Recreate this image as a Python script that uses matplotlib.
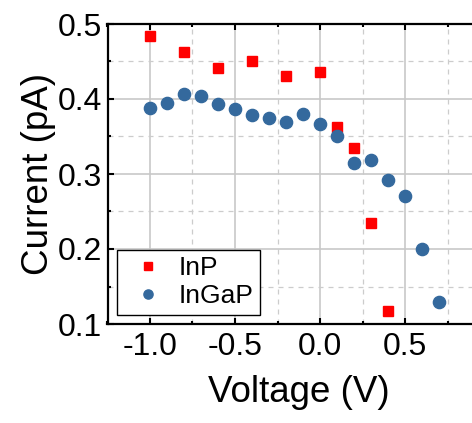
import matplotlib.pyplot as plt
from matplotlib.ticker import MultipleLocator

plt.rcParams['font.family'] = ['Liberation Sans', 'DejaVu Sans']

# InP data (squares)
inp_v = [-1.0, -0.8, -0.6, -0.4, -0.2, 0.0, 0.1, 0.2, 0.3, 0.4]
inp_i = [0.484, 0.462, 0.441, 0.450, 0.430, 0.436, 0.362, 0.335, 0.234, 0.117]

# InGaP data (circles)
ingap_v = [-1.0, -0.9, -0.8, -0.7, -0.6, -0.5, -0.4, -0.3, -0.2, -0.1,
           0.0, 0.1, 0.2, 0.3, 0.4, 0.5, 0.6, 0.7]
ingap_i = [0.388, 0.395, 0.407, 0.404, 0.393, 0.386, 0.379, 0.375, 0.369, 0.380,
           0.366, 0.351, 0.315, 0.319, 0.292, 0.270, 0.200, 0.129]

xticks = [-1.0, -0.5, 0.0, 0.5]
yticks = [0.1, 0.2, 0.3, 0.4, 0.5]

fig = plt.figure(figsize=(4.72, 4.23), dpi=100)
ax = fig.add_axes([107.5 / 472, 99 / 423, 382.5 / 472, 300 / 423])

ax.plot(inp_v, inp_i, 's', color='#ff0000', markersize=7, label='InP', zorder=3)
ax.plot(ingap_v, ingap_i, 'o', color='#34699d', markersize=8.8, label='InGaP', zorder=3)

ax.set_xlim(-1.25, 1.0)
ax.set_ylim(0.1, 0.5)
ax.set_xticks(xticks)
ax.set_xticklabels(['-1.0', '-0.5', '0.0', '0.5'])
ax.set_yticks(yticks)
ax.xaxis.set_minor_locator(MultipleLocator(0.25))
ax.yaxis.set_minor_locator(MultipleLocator(0.05))

ax.grid(which='major', color='#c8c8c8', linewidth=1.2, linestyle='-')
ax.grid(which='minor', color='#cccccc', linewidth=0.9, linestyle=(0, (4, 4)))
ax.set_axisbelow(True)

ax.tick_params(which='both', direction='in', top=True, right=False,
               labelsize=23, width=1.5)
ax.tick_params(axis='y', which='both', pad=4)
ax.tick_params(axis='x', which='both', pad=6)
ax.tick_params(which='major', length=4)
ax.tick_params(which='minor', length=2.5)
for s in ax.spines.values():
    s.set_linewidth(1.6)

ax.set_xlabel('Voltage (V)', fontsize=26.5, labelpad=9)
ax.set_ylabel('Current (pA)', fontsize=26.5, labelpad=1)

leg = ax.legend(loc='lower left', fontsize=19, frameon=True, fancybox=False,
                edgecolor='black', framealpha=1, markerscale=0.75,
                borderaxespad=0.35, handletextpad=0.2, labelspacing=0.15,
                borderpad=0.25, handlelength=1.9)
leg.get_frame().set_linewidth(1.0)

fig.savefig('out.png', dpi=100)
